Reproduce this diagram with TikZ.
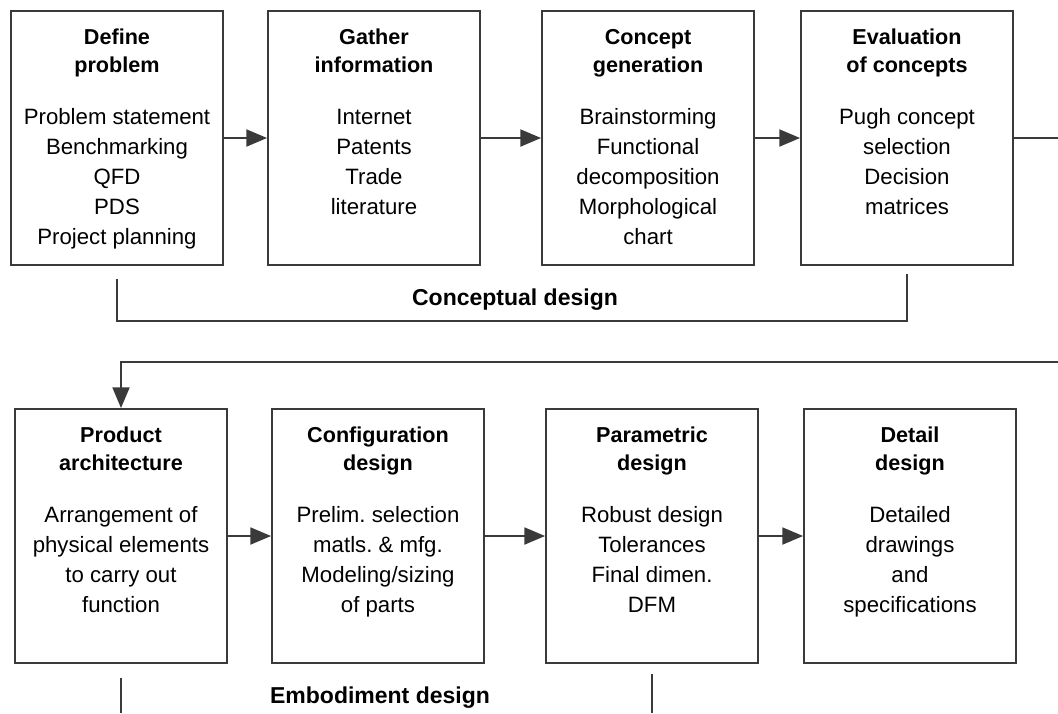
\documentclass[tikz,border=0pt]{standalone}
\usepackage{fontspec}
\setmainfont{Liberation Sans}
\usetikzlibrary{arrows}
\usetikzlibrary{positioning}
\frenchspacing

\newcommand{\stagetext}[2]{\parbox[t][127pt][t]{106pt}{\centering
    \fontsize{10.8}{14}\selectfont\bfseries\rule{0pt}{16.5pt}#1\par
    \vspace{11pt}\fontsize{11.1}{15}\selectfont\mdseries #2\par}}

\begin{document}
\begin{tikzpicture}[x=0.5pt, y=-0.5pt]
    \definecolor{my_line}{HTML}{3A3A3A}
    \tikzstyle{stage}=[draw=my_line, line width=1pt, rectangle, inner sep=0pt,
                       minimum width=106pt, minimum height=127pt]
    \tikzstyle{flow}=[draw=my_line, line width=1.4pt, -triangle 45]
    \tikzstyle{bracket}=[draw=my_line, line width=0.7pt]
    \tikzstyle{phase}=[font=\fontsize{11.5}{14}\selectfont\bfseries]
    \useasboundingbox (0,0) rectangle (1058,713);

    % conceptual design
    \node[stage] (define) at (117,138) {\stagetext{Define\\problem}{Problem statement\\Benchmarking\\QFD\\PDS\\Project planning}};
    \node[stage] (gather) at (374,138) {\stagetext{Gather\\information}{Internet\\Patents\\Trade\\literature}};
    \node[stage] (concept) at (648,138) {\stagetext{Concept\\generation}{Brainstorming\\Functional\\decomposition\\Morphological\\chart}};
    \node[stage] (evaluate) at (907,138) {\stagetext{Evaluation\\of concepts}{Pugh concept\\selection\\Decision\\matrices}};

    % embodiment design
    \node[stage] (architecture) at (121,536) {\stagetext{Product\\architecture}{Arrangement of\\physical elements\\to carry out\\function}};
    \node[stage] (configuration) at (378,536) {\stagetext{Configuration\\design}{Prelim. selection\\matls. \& mfg.\\Modeling/sizing\\of parts}};
    \node[stage] (parametric) at (652,536) {\stagetext{Parametric\\design}{Robust design\\Tolerances\\Final dimen.\\DFM}};
    \node[stage] (detail) at (910,536) {\stagetext{Detail\\design}{Detailed\\drawings\\and\\specifications}};

    \draw[flow] (define) -- (gather);
    \draw[flow] (gather) -- (concept);
    \draw[flow] (concept) -- (evaluate);
    \draw[flow] (architecture) -- (configuration);
    \draw[flow] (configuration) -- (parametric);
    \draw[flow] (parametric) -- (detail);

    % return line, runs off the page edge
    \coordinate (exitR) at (1058,138);
    \coordinate (entryR) at (1058,362);
    \coordinate (bottomedge) at (0,713);
    \draw[flow, -] (evaluate.east) -- (exitR);
    \draw[flow] (entryR) -- (architecture.north |- entryR) -- (architecture.north);

    % phase brackets
    \draw[bracket] ([yshift=-6.5pt]define.south) -- ++(0,42) -| ([yshift=-4pt]evaluate.south);
    \node[phase] (conceptual) at (515,300) {Conceptual design};
    \draw[bracket] ([yshift=-7pt]architecture.south) -- (architecture.south |- bottomedge);
    \draw[bracket] ([yshift=-5pt]parametric.south) -- (parametric.south |- bottomedge);
    \node[phase] (embodiment) at (380,698) {Embodiment design};
\end{tikzpicture}
\end{document}
